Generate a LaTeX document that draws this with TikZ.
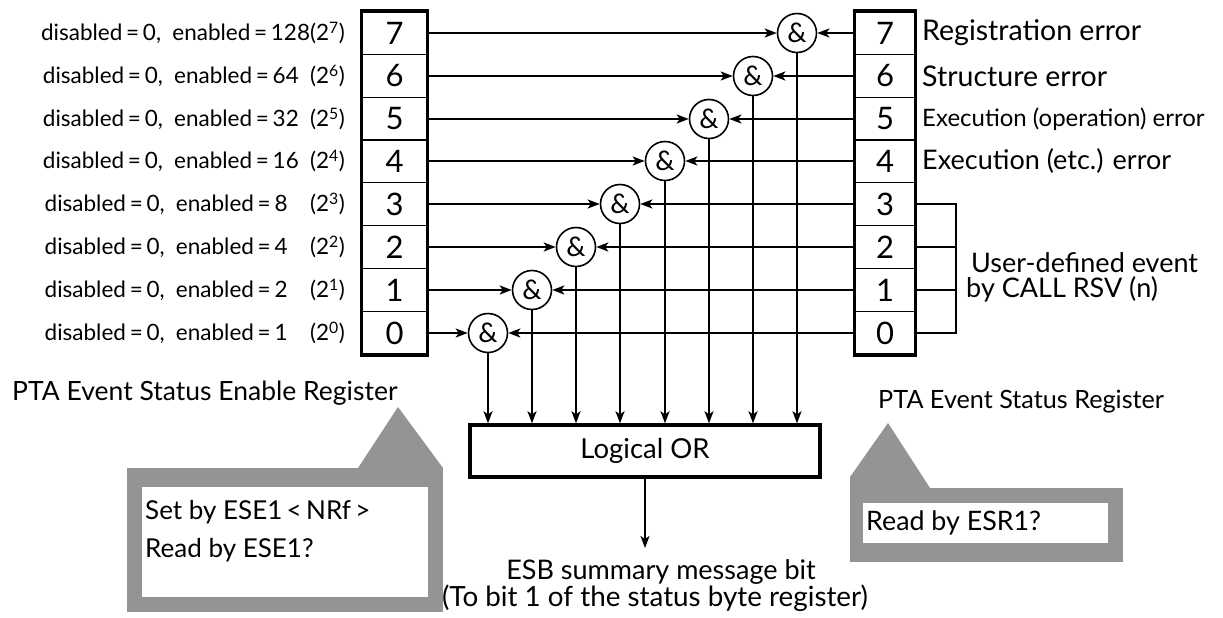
\documentclass[tikz,border=0pt]{standalone}
\usepackage{fontspec}
\setmainfont{Lato}
\usetikzlibrary{arrows.meta,calc}
\begin{document}
\begin{tikzpicture}[x=1pt,y=-1pt,
  regL/.style={draw,line width=1.4pt,minimum width=65pt,minimum height=42.75pt,inner sep=0pt,font=\fontsize{31}{31}\selectfont},
  regR/.style={regL,minimum width=60pt},
  gate/.style={draw,circle,line width=1.6pt,minimum size=39pt,inner sep=0pt,font=\fontsize{27}{27}\selectfont},
  arr/.style={line width=2pt,-{Stealth[length=12pt,width=9pt,inset=3pt]}},
  ln/.style={line width=2pt},
  frame/.style={line width=3.4pt},
  lbl/.style={anchor=east,inner sep=0pt,font=\fontsize{22.5}{22.5}\selectfont},
  rlbl/.style={anchor=west,inner sep=0pt,font=\fontsize{28.5}{28.5}\selectfont},
  txt/.style={inner sep=0pt,font=\fontsize{27}{27}\selectfont},
  shadecol/.style={fill=black!42,draw=none},
]
\fill[white] (0,0) rectangle (1223,618);
\path[use as bounding box] (0,0) rectangle (1223,618);

% registers and gates (bit / row centre y / gate x)
\foreach \i/\yy/\gx in {0/333/488,1/290/532,2/247/576,3/204/620,4/161/665,5/119/709,6/76/753,7/33/797} {
  \node[regL] (L\i) at (394.5,\yy) {\i};
  \node[regR] (R\i) at (885,\yy) {\i};
  \node[gate] (G\i) at (\gx,\yy) {\&};
}
\draw[frame] (L7.north west) rectangle (L0.south east);
\draw[frame] (R7.north west) rectangle (R0.south east);

% Logical OR
\node[draw,frame,minimum width=350pt,minimum height=52pt,inner sep=0pt,font=\fontsize{27.5}{27.5}\selectfont] (OR) at (645,451) {Logical OR};

\foreach \i in {0,...,7} {
  \draw[arr] (L\i.east) -- (G\i.west);
  \draw[arr] (R\i.west) -- (G\i.east);
  \draw[arr] (G\i.south) -- (G\i.south |- OR.north);
}

% output
\coordinate (out) at (645,548);
\draw[arr] (OR.south) -- (out);
\node[txt] (esb1) at (661,572) {ESB summary message bit};
\node[txt,font=\fontsize{27.8}{27.8}\selectfont] (esb2) at (655,598) {(To bit 1 of the status byte register)};

% left labels
\node[lbl] (l7) at (345,33) {disabled\,=\,0,\enspace enabled\,=\,128(2\textsuperscript{7})};
\node[lbl] (l6) at (345,76) {disabled\,=\,0,\enspace enabled\,=\,64\enspace(2\textsuperscript{6})};
\node[lbl] (l5) at (345,119) {disabled\,=\,0,\enspace enabled\,=\,32\enspace(2\textsuperscript{5})};
\node[lbl] (l4) at (345,161) {disabled\,=\,0,\enspace enabled\,=\,16\enspace(2\textsuperscript{4})};
\node[lbl] (l3) at (345,204) {disabled\,=\,0,\enspace enabled\,=\,8\quad(2\textsuperscript{3})};
\node[lbl] (l2) at (345,247) {disabled\,=\,0,\enspace enabled\,=\,4\quad(2\textsuperscript{2})};
\node[lbl] (l1) at (345,290) {disabled\,=\,0,\enspace enabled\,=\,2\quad(2\textsuperscript{1})};
\node[lbl] (l0) at (345,333) {disabled\,=\,0,\enspace enabled\,=\,1\quad(2\textsuperscript{0})};

% right labels
\node[rlbl] (r7) at (922,33) {Registration error};
\node[rlbl] (r6) at (922,76) {Structure error};
\node[rlbl,font=\fontsize{24}{24}\selectfont] (r5) at (922,119) {Execution (operation) error};
\node[rlbl,font=\fontsize{27}{27}\selectfont] (r4) at (922,161) {Execution (etc.) error};

% bracket
\coordinate (bt) at ($(R3.east)+(40,0)$);
\coordinate (bb) at ($(R0.east)+(40,0)$);
\draw[ln] (R3.east) -- (bt) -- (bb) -- (R0.east);
\draw[ln] (R2.east) -- (R2.east -| bt);
\draw[ln] (R1.east) -- (R1.east -| bt);
\node[rlbl,font=\fontsize{27}{27}\selectfont] (u1) at (971,263) {User-defined event};
\node[rlbl,font=\fontsize{27}{27}\selectfont] (u2) at (966,289) {by CALL RSV (n)};

% titles
\node[txt,anchor=west,font=\fontsize{26.5}{26.5}\selectfont] (tL) at (12,393) {PTA Event Status Enable Register};
\node[txt,anchor=west,font=\fontsize{25.2}{25.2}\selectfont] (tR) at (878,402) {PTA Event Status Register};

% left callout
\fill[shadecol] (127,468) rectangle (443,612);
\fill[shadecol] (358,468) -- (398,407) -- (443,468) -- cycle;
\fill[white] (142,487) rectangle (428,597);
\node[txt,anchor=west,font=\fontsize{26}{26}\selectfont] (c1) at (145,512) {Set by ESE1\,<\,NRf\,>};
\node[txt,anchor=west,font=\fontsize{26}{26}\selectfont] (c2) at (145,550) {Read by ESE1?};

% right callout
\fill[shadecol] (850,488) rectangle (1123,562);
\fill[shadecol] (850,477) -- (888,423) -- (930,488) -- (850,488) -- cycle;
\fill[white] (863,503) rectangle (1108,543);
\node[txt,anchor=west,font=\fontsize{26.8}{26.8}\selectfont] (c3) at (866,523) {Read by ESR1?};
\end{tikzpicture}
\end{document}
